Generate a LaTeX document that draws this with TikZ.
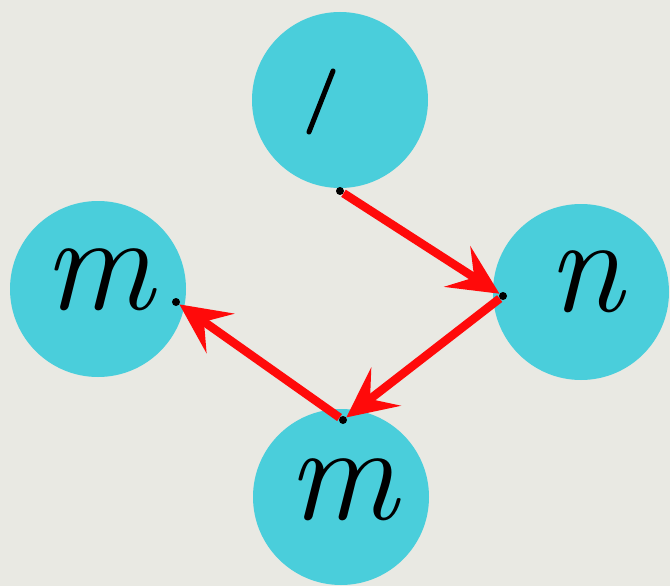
\documentclass[tikz,border=0pt]{standalone}
\usepackage{fontspec,tikz}
\usetikzlibrary{arrows.meta}
\definecolor{paper}{RGB}{233,233,227}
\definecolor{ball}{RGB}{74,206,219}
\definecolor{penred}{RGB}{255,10,10}
\tikzset{
  ball/.style={circle,fill=ball,minimum size=176pt,inner sep=0pt},
  letter/.style={font=\fontsize{138}{140}\selectfont\itshape},
  dot/.style={circle,fill=black,minimum size=8pt,inner sep=0pt},
  arr/.style={draw=penred,line width=8.5pt,-{Stealth[length=50pt,width=48pt,inset=20pt]}}
}
\begin{document}
\begin{tikzpicture}[x=1pt,y=-1pt]
\path[use as bounding box,fill=paper] (0,0) rectangle (670,586);
% circles
\node[ball] (ltop) at (340,100) {};
\node[ball] (mleft) at (98,289) {};
\node[ball] (nright) at (581,292) {};
\node[ball] (mbottom) at (341,497) {};
% letters
\draw[line width=5pt,line cap=round] (333,71) -- (309,132);
\node[letter] (lm) at (99,280) {m};
\node[letter] (ln) at (585,282) {n};
\node[letter] (lb) at (343,490) {m};
% end dots
\node[dot] (d1) at (340,191) {};
\node[dot] (d2) at (503,296) {};
\node[dot] (d3) at (343,420) {};
\node[dot] (d4) at (176,302) {};
% arrows
\draw[arr] (d1) -- (d2);
\draw[arr] (d2) -- (d3);
\draw[arr] (d3) -- (d4);
\end{tikzpicture}
\end{document}
